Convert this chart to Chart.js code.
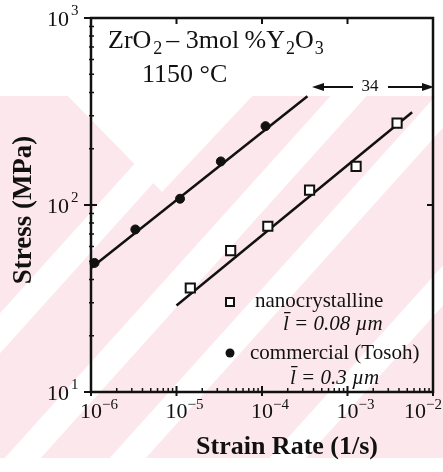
<!DOCTYPE html>
<html><head><meta charset="utf-8">
<script src="https://cdn.jsdelivr.net/npm/chart.js@4.4.1/dist/chart.umd.min.js"></script>
<style>html,body{margin:0;padding:0;background:#fff;overflow:hidden}</style>
</head><body>
<canvas id="c" width="443" height="472" style="display:block;width:443px;height:472px"></canvas>
<script>
// ---- data ----
const commercialRate   = [1.1e-6, 3.3e-6, 1.1e-5, 3.3e-5, 1.1e-4];
const commercialStress = [49, 74, 108, 171, 264];
const nanoRate   = [1.45e-5, 4.3e-5, 1.17e-4, 3.6e-4, 1.26e-3, 3.8e-3];
const nanoStress = [36, 57, 77, 120, 161, 274];
const commercialFitRate   = [1e-6, 3.4e-4];
const commercialFitStress = [46, 382];
const nanoFitRate   = [1e-5, 5.7e-3];
const nanoFitStress = [29, 313];
const xTickValues = [1e-6, 1e-5, 1e-4, 1e-3, 1e-2];
const xTickExponents = ['\u22126', '\u22125', '\u22124', '\u22123', '\u22122'];
const yTickValues = [10, 100, 1000];
const yTickExponents = ['1', '2', '3'];

const SERIF = '"Liberation Serif", "Times New Roman", serif';
const INK = '#111';
const PINK = 'rgb(252,232,236)';

function pts(xs, ys) { return xs.map((x, i) => ({x: x, y: ys[i]})); }

// decorative watermark behind the chart
const bgPlugin = {
  id: 'bg',
  beforeDraw(chart) {
    const ctx = chart.ctx, W = chart.width, H = chart.height;
    ctx.save();
    ctx.fillStyle = '#fff';
    ctx.fillRect(0, 0, W, H);
    ctx.beginPath(); ctx.rect(0, 96, W, 362); ctx.clip();
    ctx.fillStyle = PINK;
    ctx.fillRect(0, 96, W, 362);
    ctx.fillStyle = '#fff';
    const m = 0.9;
    [300, 435, 540, 700].forEach(k => {
      const a = k - 18, b = k + 18;
      ctx.beginPath();
      ctx.moveTo(a, 0); ctx.lineTo(b, 0); ctx.lineTo(b - m * H, H); ctx.lineTo(a - m * H, H);
      ctx.closePath(); ctx.fill();
    });
    ctx.beginPath();
    ctx.moveTo(62, 90); ctx.lineTo(162, 192); ctx.lineTo(258, 90);
    ctx.closePath(); ctx.fill();
    ctx.restore();
  }
};

function runs(ctx, x, y, list) {
  list.forEach(r => {
    ctx.font = r[1];
    ctx.fillText(r[0], x, y + (r[2] || 0));
    x += ctx.measureText(r[0]).width + (r[3] || 0);
  });
  return x;
}

const framePlugin = {
  id: 'frame',
  beforeDatasetsDraw(chart) {
    const ctx = chart.ctx, a = chart.chartArea;
    const xs = chart.scales.x, ys = chart.scales.y;
    ctx.save();
    ctx.strokeStyle = INK;
    ctx.lineWidth = 2.5;
    ctx.strokeRect(a.left, a.top, a.right - a.left, a.bottom - a.top);
    ctx.lineWidth = 1.5;
    ctx.beginPath();
    // minor ticks
    for (let d = 0; d < xTickValues.length - 1; d++) {
      for (let k = 2; k <= 9; k++) {
        const px = xs.getPixelForValue(xTickValues[d] * k);
        ctx.moveTo(px, a.bottom + 1); ctx.lineTo(px, a.bottom - 4);
      }
    }
    for (let d = 0; d < yTickValues.length - 1; d++) {
      for (let k = 2; k <= 9; k++) {
        const py = ys.getPixelForValue(yTickValues[d] * k);
        ctx.moveTo(a.left - 2, py); ctx.lineTo(a.left + 3, py);
      }
    }
    ctx.stroke();
    ctx.lineWidth = 2;
    ctx.beginPath();
    xTickValues.forEach(v => {
      const px = xs.getPixelForValue(v);
      ctx.moveTo(px, a.bottom + 4); ctx.lineTo(px, a.bottom - 6);
      ctx.moveTo(px, a.top); ctx.lineTo(px, a.top + 6);
    });
    yTickValues.forEach(v => {
      const py = ys.getPixelForValue(v);
      ctx.moveTo(a.left - 7, py); ctx.lineTo(a.left + 6, py);
      ctx.moveTo(a.right, py); ctx.lineTo(a.right - 6, py);
    });
    ctx.stroke();
    ctx.restore();
  },
  afterDraw(chart) {
    const ctx = chart.ctx, a = chart.chartArea;
    const xs = chart.scales.x, ys = chart.scales.y;
    ctx.save();
    ctx.fillStyle = INK;
    ctx.textBaseline = 'alphabetic';
    // x tick labels
    xTickValues.forEach((v, i) => {
      const px = xs.getPixelForValue(v);
      ctx.font = '22px ' + SERIF;
      const w10 = ctx.measureText('10').width;
      ctx.font = '15px ' + SERIF;
      const we = ctx.measureText(xTickExponents[i]).width;
      let x0 = px - w10 / 2;
      if (x0 + w10 + we > chart.width - 1) x0 = chart.width - 1 - w10 - we;
      runs(ctx, x0, a.bottom + 26, [['10', '22px ' + SERIF, 0, 0], [xTickExponents[i], '15px ' + SERIF, -9]]);
    });
    // y tick labels
    yTickValues.forEach((v, i) => {
      const py = ys.getPixelForValue(v);
      ctx.font = '22px ' + SERIF;
      const w10 = ctx.measureText('10').width;
      runs(ctx, a.left - 22 - w10, py + 8, [['10', '22px ' + SERIF, 0, 2], [yTickExponents[i], '15px ' + SERIF, -11]]);
    });
    // axis titles
    ctx.textBaseline = 'middle';
    ctx.textAlign = 'center';
    ctx.font = 'bold 26px ' + SERIF;
    ctx.fillText('Strain Rate (1/s)', 287, 447);
    ctx.save();
    ctx.translate(24, 210);
    ctx.rotate(-Math.PI / 2);
    ctx.font = 'bold 27px ' + SERIF;
    ctx.fillText('Stress (MPa)', 0, 0);
    ctx.restore();
    ctx.textAlign = 'left';
    ctx.textBaseline = 'alphabetic';
    // material label
    const F = '26px ' + SERIF, S = '18px ' + SERIF;
    runs(ctx, 108, 48, [['ZrO', F, 0, 2], ['2', S, 6, 4], ['\u2013 3mol\u2009%Y', F, 0, 1], ['2', S, 6, 0], ['O', F, 0, 1], ['3', S, 6, 0]]);
    ctx.font = F;
    ctx.fillText('1150 \u00B0C', 142, 82);
    // 34 arrows
    ctx.font = '17px ' + SERIF;
    ctx.textAlign = 'center';
    ctx.textBaseline = 'middle';
    ctx.fillText('34', 370, 87);
    ctx.strokeStyle = INK; ctx.lineWidth = 2;
    ctx.beginPath();
    ctx.moveTo(353, 87); ctx.lineTo(320, 87);
    ctx.moveTo(388, 87); ctx.lineTo(426, 87);
    ctx.stroke();
    ctx.beginPath();
    ctx.moveTo(312, 87); ctx.lineTo(324, 83); ctx.lineTo(324, 91); ctx.closePath();
    ctx.moveTo(434, 87); ctx.lineTo(422, 83); ctx.lineTo(422, 91); ctx.closePath();
    ctx.fill();
    // legend
    ctx.textAlign = 'left';
    ctx.textBaseline = 'middle';
    ctx.fillStyle = '#fff'; ctx.strokeStyle = INK; ctx.lineWidth = 2;
    ctx.fillRect(226, 298, 8, 8); ctx.strokeRect(226, 298, 8, 8);
    ctx.fillStyle = INK;
    ctx.beginPath(); ctx.arc(230, 353, 4.5, 0, Math.PI * 2); ctx.fill();
    ctx.font = '21px ' + SERIF;
    ctx.fillText('nanocrystalline', 255, 301);
    ctx.fillText('commercial (Tosoh)', 250, 353);
    ctx.font = 'italic 21px ' + SERIF;
    ctx.fillText('l\u0304 = 0.08 \u00B5m', 283, 324);
    ctx.fillText('l\u0304 = 0.3 \u00B5m', 290, 378);
    ctx.restore();
  }
};

new Chart(document.getElementById('c'), {
  type: 'scatter',
  data: {
    datasets: [
      { label: 'commercial (Tosoh)', data: pts(commercialRate, commercialStress),
        pointStyle: 'circle', radius: 4.5, backgroundColor: INK, borderColor: INK, borderWidth: 1, clip: false },
      { label: 'nanocrystalline', data: pts(nanoRate, nanoStress),
        pointStyle: 'rect', radius: 6.5, backgroundColor: '#fff', borderColor: INK, borderWidth: 2, clip: false },
      { label: 'commercial fit', data: pts(commercialFitRate, commercialFitStress), showLine: true,
        radius: 0, borderColor: INK, borderWidth: 2.5, clip: false },
      { label: 'nano fit', data: pts(nanoFitRate, nanoFitStress), showLine: true,
        radius: 0, borderColor: INK, borderWidth: 2.5, clip: false }
    ]
  },
  options: {
    responsive: false, animation: false, devicePixelRatio: 1,
    layout: { padding: { top: 18, right: 10, left: 0, bottom: 0 } },
    plugins: { legend: { display: false }, tooltip: { enabled: false } },
    scales: {
      x: { type: 'logarithmic', min: 1e-6, max: 1e-2,
           grid: { display: false, drawTicks: false }, border: { display: false },
           ticks: { display: false }, afterFit(s) { s.height = 80; } },
      y: { type: 'logarithmic', min: 10, max: 1000,
           grid: { display: false, drawTicks: false }, border: { display: false },
           ticks: { display: false }, afterFit(s) { s.width = 91; } }
    }
  },
  plugins: [bgPlugin, framePlugin]
});
</script>
</body></html>
